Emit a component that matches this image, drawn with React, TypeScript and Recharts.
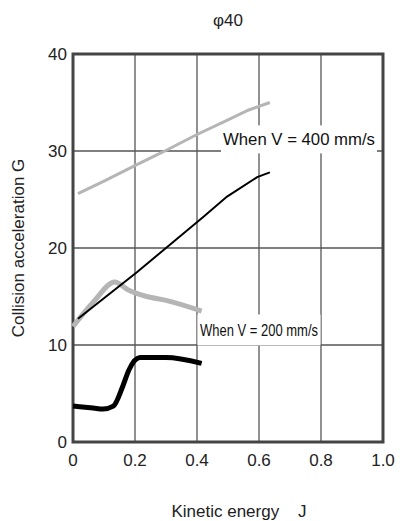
import { LineChart, Line, XAxis, YAxis, CartesianGrid, ReferenceArea, ReferenceDot, Label } from "recharts";

// Collision acceleration vs kinetic energy (φ40)
const highSpeedGray = [
  { x: 0.016, y: 25.6 },
  { x: 0.1, y: 26.9 },
  { x: 0.206, y: 28.6 },
  { x: 0.29, y: 29.9 },
  { x: 0.4, y: 31.7 },
  { x: 0.5, y: 33.2 },
  { x: 0.565, y: 34.2 },
  { x: 0.635, y: 35.0 },
];

const highSpeedBlack = [
  { x: 0.016, y: 12.7 },
  { x: 0.206, y: 17.5 },
  { x: 0.33, y: 20.8 },
  { x: 0.42, y: 23.2 },
  { x: 0.497, y: 25.3 },
  { x: 0.594, y: 27.3 },
  { x: 0.635, y: 27.8 },
];

const lowSpeedGray = [
  { x: 0, y: 11.9 },
  { x: 0.065, y: 14.4 },
  { x: 0.135, y: 16.5 },
  { x: 0.177, y: 15.7 },
  { x: 0.238, y: 15.0 },
  { x: 0.3, y: 14.6 },
  { x: 0.415, y: 13.5 },
];

const lowSpeedBlack = [
  { x: 0, y: 3.7 },
  { x: 0.065, y: 3.5 },
  { x: 0.097, y: 3.4 },
  { x: 0.13, y: 3.7 },
  { x: 0.16, y: 5.7 },
  { x: 0.18, y: 7.4 },
  { x: 0.216, y: 8.7 },
  { x: 0.3, y: 8.7 },
  { x: 0.415, y: 8.1 },
];

const xTicks = [0, 0.2, 0.4, 0.6, 0.8, 1.0];
const yTicks = [0, 10, 20, 30, 40];

const FONT = "'Liberation Sans', Arial, sans-serif";

// white-boxed annotation, text squeezed to a fixed length
function boxLabel(text: string, boxW: number, boxH: number, textW: number, size: number) {
  return (props: any) => {
    const { viewBox } = props;
    const cx = viewBox.x + (viewBox.width || 0) / 2;
    const cy = viewBox.y + (viewBox.height || 0) / 2;
    return (
      <g>
        <rect x={cx - boxW / 2} y={cy - boxH / 2} width={boxW} height={boxH} fill="#fff" />
        <text
          x={cx - textW / 2}
          y={cy + size * 0.36}
          textLength={textW}
          lengthAdjust="spacingAndGlyphs"
          fontSize={size}
          fontFamily={FONT}
          fill="#111"
        >
          {text}
        </text>
      </g>
    );
  };
}

export default function App() {
  return (
    <div style={{ position: "absolute", left: 0, top: 0, width: 400, height: 521, background: "#fff" }}>
      <LineChart width={400} height={521} margin={{ top: 54, right: 17, left: 0, bottom: 0 }}>
        <CartesianGrid stroke="#555" strokeWidth={1.3} horizontalValues={[10, 20, 30]} verticalValues={[0.2, 0.4, 0.6, 0.8]} />
        <XAxis
          type="number"
          dataKey="x"
          domain={[0, 1]}
          ticks={xTicks}
          tickFormatter={(v: number) => (v === 0 ? "0" : v.toFixed(1))}
          tickLine={false}
          axisLine={false}
          tickSize={0}
          tickMargin={12}
          tick={{ fontSize: 17, fill: "#222", fontFamily: FONT }}
          height={79}
        >
          <Label value={"Kinetic energy\u00a0\u00a0\u00a0\u00a0J"} position="insideBottom" offset={4} dx={11} style={{ fontSize: 17, fill: "#222", fontFamily: FONT }} />
        </XAxis>
        <YAxis
          type="number"
          domain={[0, 40]}
          ticks={yTicks}
          tickLine={false}
          axisLine={false}
          tickSize={0}
          tickMargin={6}
          tick={{ fontSize: 17, fill: "#222", fontFamily: FONT }}
          width={73}
        >
          <Label value="Collision acceleration G" angle={-90} position="insideLeft" offset={18} style={{ fontSize: 17, fill: "#222", fontFamily: FONT, textAnchor: "middle" }} />
        </YAxis>
        <ReferenceArea x1={0} x2={1} y1={0} y2={40} fill="none" stroke="#444" strokeWidth={3} ifOverflow="visible" />
        <ReferenceDot x={0.729} y={31.2} r={0} ifOverflow="visible" label={boxLabel("When V = 400 mm/s", 156, 28, 152, 17)} />
        <ReferenceDot x={0.6} y={11.55} r={0} ifOverflow="visible" label={boxLabel("When V = 200 mm/s", 123, 31, 118, 17)} />
        <Line data={highSpeedGray} dataKey="y" type="linear" stroke="#b5b5b5" strokeWidth={3} dot={false} isAnimationActive={false} />
        <Line data={lowSpeedGray} dataKey="y" type="monotone" stroke="#b5b5b5" strokeWidth={5} dot={false} isAnimationActive={false} />
        <Line data={highSpeedBlack} dataKey="y" type="linear" stroke="#000" strokeWidth={2} dot={false} isAnimationActive={false} />
        <Line data={lowSpeedBlack} dataKey="y" type="monotone" stroke="#000" strokeWidth={5} dot={false} isAnimationActive={false} />
      </LineChart>
      <div style={{ position: "absolute", left: 0, width: 456, top: 11, textAlign: "center", fontSize: 17, fontFamily: FONT, color: "#222" }}>φ40</div>
    </div>
  );
}
